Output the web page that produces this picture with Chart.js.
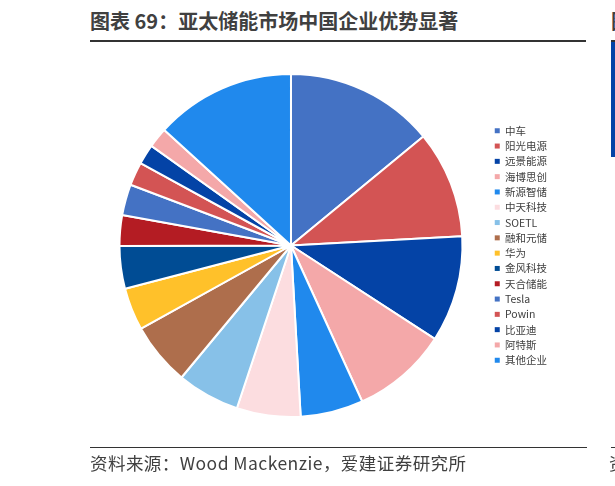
<!DOCTYPE html>
<html>
<head>
<meta charset="utf-8">
<script src="https://cdn.jsdelivr.net/npm/chart.js@4"></script>
<style>
    html, body { margin: 0; padding: 0; background: #fff; }
    body { width: 615px; height: 486px; position: relative; overflow: hidden; font-family: "Noto Sans CJK SC", "Noto Sans", sans-serif; color: #404040; }
    #title { position: absolute; left: 90px; top: 6px; font-size: 20px; font-weight: bold; white-space: nowrap; }
    #titleLine { position: absolute; left: 90px; top: 40px; width: 496px; height: 2px; background: #333; }
    #source { position: absolute; left: 90px; top: 450px; font-size: 17.5px; letter-spacing: 0.45px; white-space: nowrap; }
    #sourceLine { position: absolute; left: 90px; top: 447px; width: 497px; height: 1px; background: #333; }
    /* bits of the next panel cut off at the right edge */
    #nextTitle { position: absolute; left: 611px; top: 6px; font-size: 20px; font-weight: bold; white-space: nowrap; }
    #nextBar { position: absolute; left: 611px; top: 40px; width: 10px; height: 115px; background: #0443A6; border-top: 2px solid #333; }
    #nextLine { position: absolute; left: 611px; top: 447px; width: 10px; height: 1px; background: #333; }
    #nextSource { position: absolute; left: 609px; top: 450px; font-size: 17.5px; white-space: nowrap; }
    #chartBox { position: absolute; left: 0; top: 0; width: 615px; height: 486px; }
</style>
</head>
<body>
<div id="title">图表 69：亚太储能市场中国企业优势显著</div>
<div id="titleLine"></div>
<div id="nextTitle">图表</div>
<div id="nextBar"></div>
<div id="chartBox"><canvas id="pieChart"></canvas></div>
<div id="sourceLine"></div>
<div id="source">资料来源：Wood Mackenzie，爱建证券研究所</div>
<div id="nextLine"></div>
<div id="nextSource">资料</div>

<script>
// Companies in the Asia-Pacific storage market, in legend order
const companies = [
    "中车", "阳光电源", "远景能源", "海博思创", "新源智储", "中天科技", "SOETL", "融和元储",
    "华为", "金风科技", "天合储能", "Tesla", "Powin", "比亚迪", "阿特斯", "其他企业"
];

// Market share (%)
const shares = [14.0, 10.1, 10.0, 9.0, 5.9, 6.0, 5.9, 5.9, 4.0, 4.0, 2.9, 2.9, 2.2, 1.9, 1.9, 13.2];

const sliceColors = [
    "#4472C4", "#D35454", "#0443A6", "#F4A8A9", "#2089ED", "#FCDDE0", "#87C1E8", "#AE6E4C",
    "#FFC12A", "#004C94", "#B41C23", "#4472C4", "#D35454", "#0443A6", "#F4A8A9", "#2089ED"
];

const ctx = document.getElementById('pieChart').getContext('2d');

const pieChart = new Chart(ctx, {
    type: 'pie',
    data: {
        labels: companies,
        datasets: [{
            data: shares,
            backgroundColor: sliceColors,
            borderColor: '#ffffff',
            borderWidth: 2
        }]
    },
    options: {
        responsive: true,
        maintainAspectRatio: false,
        animation: false,
        layout: {
            padding: { top: 73, bottom: 68, left: 92, right: 58 }
        },
        plugins: {
            tooltip: { enabled: false },
            legend: {
                position: 'right',
                align: 'center',
                labels: {
                    boxWidth: 5,
                    boxHeight: 5,
                    padding: 4.8,
                    color: '#404040',
                    font: { size: 10.5, family: '"Noto Sans CJK SC", "Noto Sans", sans-serif' },
                    generateLabels: function (chart) {
                        // default pie labels, but without the white border round the box
                        const items = Chart.overrides.pie.plugins.legend.labels.generateLabels(chart);
                        items.forEach(item => {
                            item.lineWidth = 0;
                            item.strokeStyle = item.fillStyle;
                        });
                        return items;
                    }
                }
            }
        }
    }
});
</script>
</body>
</html>
